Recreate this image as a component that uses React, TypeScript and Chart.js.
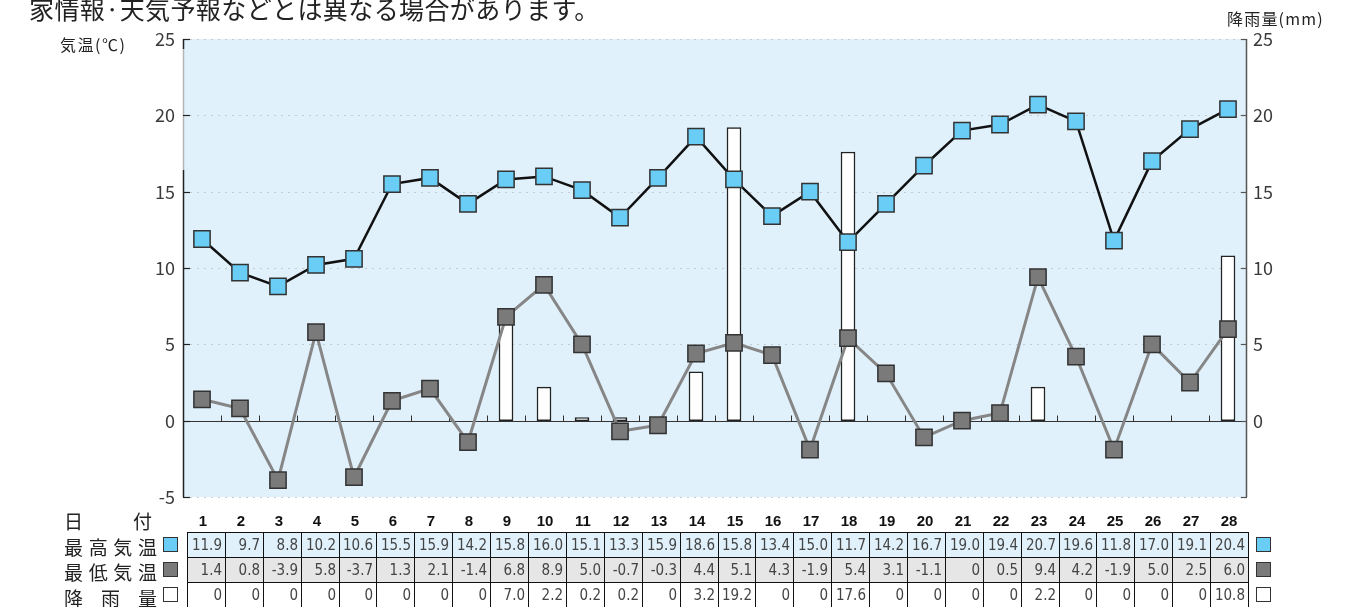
import React, { useEffect, useRef } from "react";
import { Chart, registerables } from "chart.js";

Chart.register(...registerables);

const days = ["1","2","3","4","5","6","7","8","9","10","11","12","13","14","15","16","17","18","19","20","21","22","23","24","25","26","27","28"];
const maxTemp = [11.9, 9.7, 8.8, 10.2, 10.6, 15.5, 15.9, 14.2, 15.8, 16.0, 15.1, 13.3, 15.9, 18.6, 15.8, 13.4, 15.0, 11.7, 14.2, 16.7, 19.0, 19.4, 20.7, 19.6, 11.8, 17.0, 19.1, 20.4];
const minTemp = [1.4, 0.8, -3.9, 5.8, -3.7, 1.3, 2.1, -1.4, 6.8, 8.9, 5.0, -0.7, -0.3, 4.4, 5.1, 4.3, -1.9, 5.4, 3.1, -1.1, 0, 0.5, 9.4, 4.2, -1.9, 5.0, 2.5, 6.0];
const rain = [0, 0, 0, 0, 0, 0, 0, 0, 7.0, 2.2, 0.2, 0.2, 0, 3.2, 19.2, 0, 0, 17.6, 0, 0, 0, 0, 2.2, 0, 0, 0, 0, 10.8];
const yTicks = [-5, 0, 5, 10, 15, 20, 25];

const noteText = "家情報·天気予報などとは異なる場合があります。";
const leftAxisTitle = "気温(℃)";
const rightAxisTitle = "降雨量(mm)";
const rowLabels = [
  { chars: ["日", "付"], key: "day" },
  { chars: ["最", "高", "気", "温"], key: "max" },
  { chars: ["最", "低", "気", "温"], key: "min" },
  { chars: ["降", "雨", "量"], key: "rain" },
];

const MAX_FILL = "#6ACDF5";
const MIN_FILL = "#7A7A7A";
const PLOT_BG = "#E0F1FB";
const CJK = '"Noto Sans CJK JP", "Noto Sans", sans-serif';
const NARROW = '"Liberation Sans Narrow", "DejaVu Sans Condensed", sans-serif';

const fmt = (v: number) => (v === 0 ? "0" : v.toFixed(1));

const decoPlugin = {
  id: "deco",
  beforeDraw(chart: any) {
    const { ctx, chartArea: a } = chart;
    const y = chart.scales.y;
    const x = chart.scales.x;
    ctx.save();
    ctx.fillStyle = PLOT_BG;
    ctx.fillRect(a.left, a.top, a.right - a.left, a.bottom - a.top);
    ctx.strokeStyle = "#c2ccd2";
    ctx.lineWidth = 1;
    ctx.setLineDash([2, 5]);
    for (const t of yTicks) {
      if (t === 0) continue;
      const py = Math.round(y.getPixelForValue(t)) + 0.5;
      ctx.beginPath();
      ctx.moveTo(a.left, py);
      ctx.lineTo(a.right, py);
      ctx.stroke();
    }
    ctx.setLineDash([]);
    const y0 = Math.round(y.getPixelForValue(0)) + 0.5;
    ctx.strokeStyle = "#333";
    ctx.lineWidth = 1.2;
    ctx.beginPath();
    ctx.moveTo(a.left, y0);
    ctx.lineTo(a.right, y0);
    ctx.stroke();
    ctx.lineWidth = 1;
    for (let i = 1; i < days.length; i++) {
      const px = Math.round((x.getPixelForValue(i - 1) + x.getPixelForValue(i)) / 2) + 0.5;
      ctx.beginPath();
      ctx.moveTo(px, y0);
      ctx.lineTo(px, y0 - 6);
      ctx.stroke();
    }
    ctx.restore();
  },
  afterDraw(chart: any) {
    const { ctx, chartArea: a } = chart;
    const y = chart.scales.y;
    ctx.save();
    const lx = a.left + 0.5;
    const rx = a.right - 0.5;
    ctx.lineWidth = 1.5;
    ctx.strokeStyle = "#b5b5b5";
    ctx.beginPath();
    ctx.moveTo(lx, a.top + 10);
    ctx.lineTo(lx, 170);
    ctx.stroke();
    ctx.strokeStyle = "#222";
    ctx.beginPath();
    ctx.moveTo(lx, a.top);
    ctx.lineTo(lx, a.top + 10);
    ctx.moveTo(lx, 170);
    ctx.lineTo(lx, a.bottom);
    ctx.stroke();
    ctx.strokeStyle = "#555";
    ctx.beginPath();
    ctx.moveTo(rx, a.top);
    ctx.lineTo(rx, a.bottom);
    ctx.stroke();
    ctx.lineWidth = 1.2;
    for (const t of yTicks) {
      const py = Math.round(y.getPixelForValue(t)) + 0.5;
      ctx.strokeStyle = "#222";
      ctx.beginPath();
      ctx.moveTo(a.left, py);
      ctx.lineTo(a.left + 7, py);
      ctx.stroke();
      ctx.strokeStyle = "#555";
      ctx.beginPath();
      ctx.moveTo(a.right, py);
      ctx.lineTo(a.right - 6, py);
      ctx.stroke();
    }
    ctx.restore();
  },
};

const COL_LEFT = 187;
const COL_W = (1248 - 187) / days.length;
const CAT_LEFT = 183;
const CAT_W = (1247 - 183) / days.length;
const TABLE_TOP = 532;
const ROW_H = 25;
const colX = (i: number) => Math.round(COL_LEFT + i * COL_W);

function Square({ left, top, fill }: { left: number; top: number; fill: string }) {
  return (
    <div
      style={{
        position: "absolute",
        left,
        top,
        width: 15,
        height: 15,
        boxSizing: "border-box",
        background: fill,
        border: "1.5px solid #333",
      }}
    />
  );
}

export default function App() {
  const ref = useRef<HTMLCanvasElement>(null);

  useEffect(() => {
    const chart = new Chart(ref.current as HTMLCanvasElement, {
      type: "bar",
      data: {
        labels: days,
        datasets: [
          {
            type: "line",
            label: "最高気温",
            data: maxTemp,
            borderColor: "#111",
            borderWidth: 2.5,
            tension: 0,
            pointStyle: "rect",
            pointRadius: 11.5,
            pointBackgroundColor: MAX_FILL,
            pointBorderColor: "#333",
            pointBorderWidth: 1.5,
            order: 1,
            yAxisID: "y",
          } as any,
          {
            type: "line",
            label: "最低気温",
            data: minTemp,
            borderColor: "#868686",
            borderWidth: 3,
            tension: 0,
            pointStyle: "rect",
            pointRadius: 11.5,
            pointBackgroundColor: MIN_FILL,
            pointBorderColor: "#333",
            pointBorderWidth: 1.5,
            order: 2,
            yAxisID: "y",
          } as any,
          {
            type: "bar",
            label: "降雨量",
            data: rain.map((v) => (v === 0 ? null : v)),
            backgroundColor: "#ffffff",
            borderColor: "#222",
            borderWidth: 1.5,
            borderSkipped: false,
            barThickness: 14,
            order: 3,
            yAxisID: "y2",
          } as any,
        ],
      },
      options: {
        responsive: false,
        animation: false,
        devicePixelRatio: 1,
        layout: { padding: { left: 143, right: 0, top: 39, bottom: 110 } },
        plugins: { legend: { display: false }, tooltip: { enabled: false } },
        scales: {
          x: { display: false, offset: true },
          y: {
            position: "left",
            min: -5,
            max: 25,
            afterBuildTicks: (s: any) => {
              s.ticks = yTicks.map((v) => ({ value: v }));
            },
            afterFit: (s: any) => {
              s.width = 40;
            },
            grid: { display: false, drawTicks: false },
            border: { display: false },
            ticks: { padding: 8, color: "#3a3a3a", font: { family: CJK, size: 18 } },
          },
          y2: {
            position: "right",
            min: -5,
            max: 25,
            afterBuildTicks: (s: any) => {
              s.ticks = yTicks.map((v) => ({ value: v }));
            },
            afterFit: (s: any) => {
              s.width = 113;
            },
            grid: { display: false, drawTicks: false },
            border: { display: false },
            ticks: {
              padding: 6,
              color: "#3a3a3a",
              font: { family: CJK, size: 18 },
              callback: (v: any) => (Number(v) < 0 ? "" : String(v)),
            },
          },
        } as any,
      },
      plugins: [decoPlugin],
    });
    return () => chart.destroy();
  }, []);

  const rows = [
    { values: maxTemp.map(fmt), bg: PLOT_BG, fill: MAX_FILL },
    { values: minTemp.map(fmt), bg: "#E6E6E6", fill: MIN_FILL },
    { values: rain.map(fmt), bg: "#ffffff", fill: "#ffffff" },
  ];

  return (
    <div
      style={{
        position: "absolute",
        left: 0,
        top: 0,
        width: 1360,
        height: 607,
        overflow: "hidden",
        background: "#fff",
        fontFamily: CJK,
      }}
    >
      <canvas ref={ref} width={1360} height={607} style={{ position: "absolute", left: 0, top: 0, display: "block" }} />

      <div style={{ position: "absolute", left: 29, top: -4, fontSize: 25, lineHeight: "25px", color: "#222", whiteSpace: "nowrap", letterSpacing: 0.4 }}>
        {noteText}
      </div>
      <div style={{ position: "absolute", left: 60, top: 34, fontSize: 16, lineHeight: "20px", color: "#222", whiteSpace: "nowrap", letterSpacing: 1.5 }}>
        {leftAxisTitle}
      </div>
      <div style={{ position: "absolute", left: 1227, top: 8, fontSize: 16, lineHeight: "20px", color: "#222", whiteSpace: "nowrap", letterSpacing: 1.2 }}>
        {rightAxisTitle}
      </div>

      {rowLabels.map((r, i) => (
        <div
          key={r.key}
          style={{
            position: "absolute",
            left: 64,
            top: 509 + i * 25.5,
            width: r.key === "day" ? 88 : 93,
            height: 24,
            display: "flex",
            justifyContent: "space-between",
            alignItems: "center",
            fontSize: 19,
            lineHeight: "24px",
            color: "#222",
          }}
        >
          {r.chars.map((c, j) => (
            <span key={j}>{c}</span>
          ))}
        </div>
      ))}

      {days.map((d, i) => (
        <div
          key={"d" + i}
          style={{
            position: "absolute",
            left: CAT_LEFT + i * CAT_W + 1,
            top: 511,
            width: CAT_W,
            height: 20,
            textAlign: "center",
            fontFamily: '"Liberation Sans", Arial, sans-serif',
            fontWeight: "bold",
            fontSize: 15,
            lineHeight: "20px",
            color: "#111",
          }}
        >
          {d}
        </div>
      ))}

      {rows.map((row, ri) =>
        row.values.map((v, ci) => (
          <div
            key={ri + "-" + ci}
            style={{
              position: "absolute",
              left: colX(ci),
              top: TABLE_TOP + ri * ROW_H,
              width: colX(ci + 1) - colX(ci) + 1,
              height: ROW_H + 1,
              boxSizing: "border-box",
              background: row.bg,
              border: "1px solid #111",
              textAlign: "right",
              paddingRight: 3,
              fontFamily: NARROW,
              fontSize: 15,
              lineHeight: "24px",
              color: "#444",
            }}
          >
            {v}
          </div>
        ))
      )}

      {rows.map((row, ri) => (
        <React.Fragment key={"sq" + ri}>
          <Square left={163} top={TABLE_TOP + ri * ROW_H + 5} fill={row.fill} />
          <Square left={1256} top={TABLE_TOP + ri * ROW_H + 5} fill={row.fill} />
        </React.Fragment>
      ))}
    </div>
  );
}
